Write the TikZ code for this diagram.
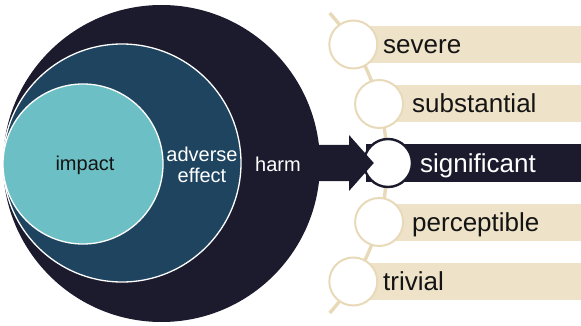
\documentclass[tikz,border=0pt]{standalone}
\usepackage{fontspec}
\setmainfont{Liberation Sans}
\usetikzlibrary{calc}
\definecolor{harmnavy}{HTML}{1C1B2E}
\definecolor{effectblue}{HTML}{1E4460}
\definecolor{impactteal}{HTML}{6CBFC4}
\definecolor{barsand}{HTML}{EEE2C8}
\definecolor{railsand}{HTML}{E8DAB9}
\definecolor{inkdark}{HTML}{141414}
\begin{document}
\begin{tikzpicture}[x=1pt,y=-1pt,
  set/.style={circle,inner sep=0pt,line width=1.3pt},
  bar/.style={rectangle,anchor=west,inner sep=0pt,minimum width=216pt,minimum height=37pt,fill=barsand},
  darkbar/.style={bar,fill=harmnavy},
  dot/.style={circle,inner sep=0pt,minimum size=48pt,fill=white,draw=railsand,line width=2pt},
  darkdot/.style={dot,draw=harmnavy,line width=2.4pt},
  rail/.style={draw=railsand,line width=3.4pt},
  lvl/.style={anchor=base west,inner sep=0pt,font=\fontsize{26}{26}\selectfont,text=inkdark},
  setlabel/.style={anchor=base,inner sep=0pt,font=\fontsize{20}{20}\selectfont}]
\useasboundingbox (0,0) rectangle (581,326);

% nested sets, all touching at the left
\node[set,fill=harmnavy,minimum size=317pt] (harm) at (161.5,163.5) {};
\node[set,fill=effectblue,draw=white,minimum size=238pt] (effect) at (122,163) {};
\node[set,fill=impactteal,draw=white,minimum size=160pt] (impact) at (83,164) {};

\node[setlabel,text=inkdark] (limpact) at (85,170.5) {impact};
\node[setlabel,text=white] (ladverse) at (202,161) {adverse};
\node[setlabel,text=white] (leffect) at (202,182.5) {effect};
\node[setlabel,text=white] (lharm) at (278,171.5) {harm};

% the scale rail: an arc around the centre of the outer set
\coordinate (hub) at (162,163);
\path[rail] (hub) ++(-41.8:225) arc[start angle=-41.8,end angle=41.8,radius=225];

% level bars
\node[bar] (bsevere) at (366,44.5) {};
\node[bar] (bsubst) at (366,104) {};
\node[darkbar] (bsig) at (366,163) {};
\node[bar] (bperc) at (366,222) {};
\node[bar] (btriv) at (366,281.5) {};

% stops on the rail
\node[dot] (csevere) at (353.3,44.5) {};
\node[dot] (csubst) at (379.1,104) {};
\node[darkdot] (csig) at (388,163) {};
\node[dot] (cperc) at (379.1,222) {};
\node[dot] (ctriv) at (353.3,281.5) {};

\node[lvl] (tsevere) at (383,53.5) {severe};
\node[lvl] (tsubst) at (412,113) {substantial};
\node[lvl,text=white] (tsig) at (420,172) {significant};
\node[lvl] (tperc) at (412,231) {perceptible};
\node[lvl] (ttriv) at (383,290.5) {trivial};

% arrow from the outer set to the selected level
\coordinate (ashaft) at ($(harm.east)+(-15,0)$);
\coordinate (atip) at ($(csig.west)+(11,0)$);
\fill[harmnavy] (ashaft |- 0,145) -- (349,145) -- (349,135) -- (atip)
  -- (349,191) -- (349,181) -- (ashaft |- 0,181) -- cycle;
\end{tikzpicture}
\end{document}
